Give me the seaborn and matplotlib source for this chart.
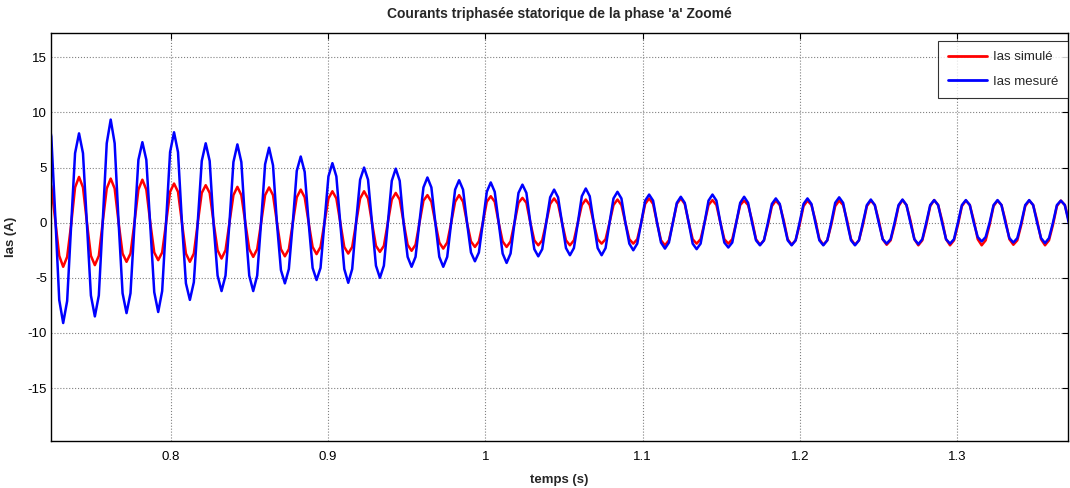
#%%
import numpy as np
import pandas as pd
import seaborn as sns
from matplotlib import pyplot as plt

# time grid: first (off-plot) peak and the period read from peak spacing,
# 8 samples per period
T0 = 0.72135
PERIOD = 0.02015
DT = PERIOD / 8

# one row per cycle: peak, falling, zero, falling, trough, rising, zero, rising
ias_mesure = [
    10.0, 7.8, 0.6, -7.0, -9.1, -7.1, -0.3, 6.3,
    8.1, 6.3, -0.2, -6.6, -8.5, -6.6, 0.2, 7.2,
    9.35, 7.2, 0.0, -6.4, -8.2, -6.4, -0.2, 5.7,
    7.3, 5.7, -0.3, -6.3, -8.1, -6.2, 0.1, 6.4,
    8.2, 6.4, 0.0, -5.5, -7.0, -5.4, 0.1, 5.6,
    7.2, 5.6, -0.2, -4.8, -6.2, -4.8, 0.0, 5.5,
    7.1, 5.5, -0.2, -4.8, -6.2, -4.8, 0.1, 5.3,
    6.8, 5.2, -0.1, -4.3, -5.5, -4.2, 0.0, 4.7,
    6.0, 4.6, 0.0, -4.1, -5.2, -4.1, 0.0, 4.2,
    5.4, 4.2, -0.1, -4.2, -5.45, -4.2, 0.1, 3.9,
    5.0, 3.9, 0.0, -3.9, -5.0, -3.9, -0.1, 3.8,
    4.9, 3.8, -0.1, -3.1, -4.0, -3.1, 0.1, 3.2,
    4.1, 3.2, 0.0, -3.1, -4.0, -3.1, 0.0, 3.0,
    3.85, 3.0, 0.0, -2.7, -3.5, -2.7, 0.0, 2.8,
    3.65, 2.8, 0.0, -2.8, -3.65, -2.8, 0.0, 2.7,
    3.45, 2.7, 0.0, -2.4, -3.05, -2.4, 0.0, 2.3,
    3.0, 2.3, 0.0, -2.3, -2.95, -2.3, 0.0, 2.4,
    3.1, 2.4, 0.0, -2.3, -2.95, -2.3, 0.0, 2.2,
    2.8, 2.2, 0.0, -1.9, -2.5, -1.9, 0.0, 2.0,
    2.55, 2.0, 0.0, -1.8, -2.35, -1.8, 0.0, 1.8,
    2.35, 1.8, 0.0, -1.9, -2.4, -1.9, 0.0, 2.0,
    2.55, 2.0, 0.0, -1.8, -2.25, -1.8, 0.0, 1.8,
    2.35, 1.8, 0.0, -1.6, -2.05, -1.6, 0.0, 1.7,
    2.2, 1.7, 0.0, -1.6, -2.05, -1.6, 0.0, 1.7,
    2.2, 1.7, 0.0, -1.6, -2.05, -1.6, 0.0, 1.8,
    2.3, 1.8, 0.0, -1.6, -2.05, -1.6, 0.0, 1.6,
    2.1, 1.6, 0.0, -1.5, -1.9, -1.5, 0.0, 1.6,
    2.1, 1.6, 0.0, -1.5, -1.95, -1.5, 0.0, 1.6,
    2.05, 1.6, 0.0, -1.5, -1.9, -1.5, 0.0, 1.6,
    2.05, 1.6, 0.0, -1.3, -1.7, -1.3, 0.0, 1.6,
    2.05, 1.6, 0.0, -1.4, -1.8, -1.4, 0.0, 1.6,
    2.05, 1.6, 0.0, -1.4, -1.85, -1.4, 0.0, 1.6,
    2.0, 1.6, 0.0, -1.5, -1.9, -1.5, 0.0, 1.6,
]

ias_simule = [
    4.3, 3.3, 0.2, -3.0, -4.0, -3.1, -0.2, 3.2,
    4.15, 3.2, 0.0, -3.0, -3.85, -3.0, 0.1, 3.1,
    4.0, 3.1, 0.0, -2.8, -3.55, -2.8, 0.0, 3.0,
    3.9, 3.0, 0.0, -2.7, -3.4, -2.7, 0.0, 2.8,
    3.55, 2.8, 0.0, -2.8, -3.55, -2.8, 0.0, 2.7,
    3.4, 2.7, 0.0, -2.5, -3.25, -2.5, 0.0, 2.5,
    3.25, 2.5, 0.0, -2.4, -3.1, -2.4, 0.0, 2.5,
    3.2, 2.5, 0.0, -2.4, -3.05, -2.4, 0.0, 2.3,
    3.0, 2.3, 0.0, -2.2, -2.85, -2.2, 0.0, 2.2,
    2.85, 2.2, 0.0, -2.2, -2.8, -2.2, 0.0, 2.2,
    2.85, 2.2, 0.0, -2.1, -2.65, -2.1, 0.0, 2.1,
    2.7, 2.1, 0.0, -2.0, -2.55, -2.0, 0.0, 2.0,
    2.5, 1.9, 0.0, -1.8, -2.35, -1.8, 0.0, 1.9,
    2.5, 1.9, 0.0, -1.7, -2.2, -1.7, 0.0, 1.9,
    2.4, 1.9, 0.0, -1.7, -2.2, -1.7, 0.0, 1.8,
    2.25, 1.8, 0.0, -1.6, -2.05, -1.6, 0.0, 1.7,
    2.2, 1.7, 0.0, -1.6, -2.05, -1.6, 0.0, 1.6,
    2.1, 1.6, 0.0, -1.5, -1.9, -1.5, 0.0, 1.6,
    2.1, 1.6, 0.0, -1.5, -1.9, -1.5, 0.0, 1.7,
    2.2, 1.7, 0.0, -1.6, -2.05, -1.6, 0.0, 1.7,
    2.2, 1.7, 0.0, -1.5, -1.9, -1.5, 0.0, 1.6,
    2.05, 1.6, 0.0, -1.5, -1.9, -1.5, 0.0, 1.6,
    2.0, 1.6, 0.2, -1.5, -2.0, -1.6, -0.2, 1.5,
    2.0, 1.6, 0.2, -1.5, -2.0, -1.6, -0.2, 1.5,
    2.0, 1.6, 0.2, -1.5, -2.0, -1.6, -0.2, 1.5,
    2.0, 1.6, 0.2, -1.5, -2.0, -1.6, -0.2, 1.5,
    2.0, 1.6, 0.2, -1.5, -2.0, -1.6, -0.2, 1.5,
    2.05, 1.6, 0.2, -1.5, -2.05, -1.6, -0.2, 1.5,
    2.05, 1.6, 0.2, -1.5, -2.05, -1.6, -0.2, 1.5,
    2.0, 1.6, 0.2, -1.5, -2.05, -1.6, -0.2, 1.5,
    2.0, 1.6, 0.2, -1.5, -2.0, -1.6, -0.2, 1.5,
    2.0, 1.6, 0.2, -1.5, -2.05, -1.6, -0.2, 1.5,
    2.0, 1.6, 0.2, -1.5, -2.0, -1.6, -0.2, 1.5,
]

labels = ['Ias simulé', 'Ias mesuré']
colors = ['#ff0000', '#0000ff']
x_ticks = [0.8, 0.9, 1.0, 1.1, 1.2, 1.3]
x_tick_labels = ['0.8', '0.9', '1', '1.1', '1.2', '1.3']
y_ticks = [-15, -10, -5, 0, 5, 10, 15]

#%%
t = T0 + DT * np.arange(len(ias_mesure))
df = pd.concat([
    pd.DataFrame({'t': t, 'ias': ias_simule, 'serie': labels[0]}),
    pd.DataFrame({'t': t, 'ias': ias_mesure, 'serie': labels[1]}),
])

sns.set_style("white")
plt.rcParams['font.family'] = ['Liberation Sans', 'DejaVu Sans']
plt.rcParams['axes.unicode_minus'] = False

fig = plt.figure(figsize=(10.7, 4.88), dpi=100)
ax = fig.add_axes([0.048, 0.0963, 0.95, 0.836])

sns.lineplot(data=df, x='t', y='ias', hue='serie', palette=dict(zip(labels, colors)),
             estimator=None, sort=False, linewidth=1.8, ax=ax)

ax.set_xlim(0.7239, 1.3706)
ax.set_ylim(-19.8, 17.2)
ax.set_xticks(x_ticks)
ax.set_xticklabels(x_tick_labels)
ax.set_yticks(y_ticks)
ax.tick_params(direction='in', top=True, right=True, length=4, width=0.8,
               labelsize=9.5, colors='black')
ax.tick_params(axis='x', pad=7)
ax.tick_params(axis='y', pad=3)
ax.grid(True, linestyle=':', color='#808080', linewidth=0.8)
for sp in ax.spines.values():
    sp.set_color('black')
    sp.set_linewidth(1.0)

ax.set_title("Courants triphasée statorique de la phase 'a' Zoomé",
             fontsize=10, fontweight='bold', pad=11)
ax.set_xlabel('temps (s)', fontsize=9.5, fontweight='bold', labelpad=8)
ax.set_ylabel('Ias (A)', fontsize=9.5, fontweight='bold', labelpad=8)

leg = ax.legend(loc='upper right', bbox_to_anchor=(1.0, 0.98), fontsize=9.5,
                frameon=True, fancybox=False, edgecolor='black', borderaxespad=0,
                handlelength=3.0, handletextpad=0.4, borderpad=0.75, labelspacing=0.95)
leg.get_frame().set_linewidth(0.8)
for line in leg.get_lines():
    line.set_linewidth(2)

plt.savefig('out.png', dpi=100)
